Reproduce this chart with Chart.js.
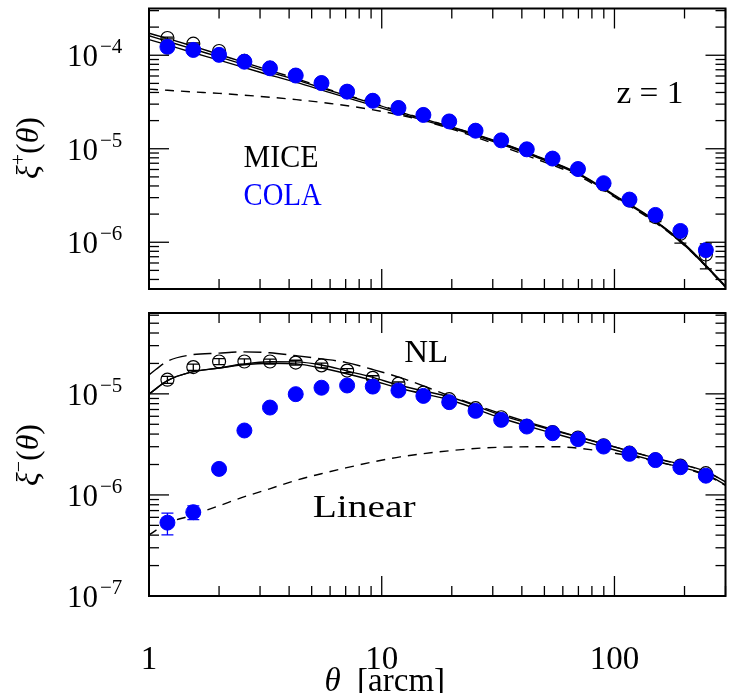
<!DOCTYPE html>
<html>
<head>
<meta charset="utf-8">
<script src="https://cdn.jsdelivr.net/npm/chart.js@4.4.0/dist/chart.umd.min.js"></script>
<style>
  body { margin: 0; background: #fff; }
  .panel { position: absolute; left: 0; }
  #topPanel { top: 0; }
  #bottomPanel { top: 300px; }
</style>
</head>
<body>
<div class="panel" id="topPanel"><canvas id="xiPlus" width="734" height="300"></canvas></div>
<div class="panel" id="bottomPanel"><canvas id="xiMinus" width="734" height="393"></canvas></div>
<script>
// angular bins of the measurements [arcmin]
const theta = [1.20, 1.55, 2.00, 2.57, 3.31, 4.27, 5.51, 7.10, 9.15, 11.8, 15.1,
  19.5, 25.3, 32.6, 42.0, 54.2, 69.7, 89.8, 116, 150, 192, 247];

// xi+ : MICE (open) and COLA (filled)
const micePlus = [1.53e-4, 1.33e-4, 1.11e-4, 8.7e-5, 7.35e-5, 6.15e-5, 5.1e-5, 4.12e-5,
  3.3e-5, 2.76e-5, 2.32e-5, 1.97e-5, 1.57e-5, 1.24e-5, 9.9e-6, 7.85e-6, 6.0e-6, 4.15e-6,
  2.8e-6, 1.86e-6, 1.23e-6, 7.4e-7];
const micePlusErr = [3e-6, 2.5e-6, 2e-6, 1.5e-6, 1.2e-6, 1e-6, 8e-7, 6e-7, 5e-7, 4e-7,
  3.5e-7, 3e-7, 2.6e-7, 2.2e-7, 2e-7, 1.8e-7, 1.7e-7, 1.8e-7, 1.8e-7, 2.0e-7, 2.5e-7, 2.2e-7];
const colaPlus = [1.23e-4, 1.14e-4, 1.01e-4, 8.53e-5, 7.25e-5, 6.07e-5, 5.04e-5, 4.08e-5,
  3.26e-5, 2.73e-5, 2.30e-5, 1.96e-5, 1.56e-5, 1.23e-5, 9.86e-6, 7.85e-6, 6.07e-6, 4.28e-6,
  2.86e-6, 1.96e-6, 1.32e-6, 8.24e-7];

// xi- : MICE (open) and COLA (filled)
const miceMinus = [1.38e-5, 1.84e-5, 2.09e-5, 2.09e-5, 2.09e-5, 2.04e-5, 1.91e-5, 1.70e-5,
  1.44e-5, 1.26e-5, 1.03e-5, 8.86e-6, 7.22e-6, 5.87e-6, 4.82e-6, 4.18e-6, 3.69e-6, 3.10e-6,
  2.62e-6, 2.25e-6, 1.95e-6, 1.64e-6];
const miceMinusErr = [1.1e-6, 1.3e-6, 1.4e-6, 1.3e-6, 1.2e-6, 1.1e-6, 1.0e-6, 8e-7, 7e-7,
  5e-7, 4e-7, 3.3e-7, 2.7e-7, 2.2e-7, 1.8e-7, 1.6e-7, 1.4e-7, 1.2e-7, 1.1e-7, 1e-7, 9e-8, 8e-8];
const colaMinus = [5.32e-7, 6.75e-7, 1.81e-6, 4.34e-6, 7.32e-6, 9.93e-6, 1.15e-5, 1.21e-5,
  1.18e-5, 1.08e-5, 9.55e-6, 8.28e-6, 6.79e-6, 5.53e-6, 4.75e-6, 4.08e-6, 3.56e-6, 3.01e-6,
  2.55e-6, 2.21e-6, 1.88e-6, 1.55e-6];
const colaMinusErr = [1.3e-7, 1.05e-7, 5e-8, 1e-7, 1.5e-7, 2e-7, 2e-7, 2e-7, 2e-7, 1.8e-7,
  1.5e-7, 1.3e-7, 1.1e-7, 9e-8, 8e-8, 7e-8, 6e-8, 5e-8, 5e-8, 4e-8, 4e-8, 4e-8];

// model curves, xi+
const thetaPlusFit = [1, 1.2, 1.5, 2, 3, 4.3, 6, 9, 14, 20, 30, 45, 70, 100, 150, 200, 250, 300];
const nlPlusA = [1.47e-4, 1.29e-4, 1.09e-4, 8.86e-5, 6.58e-5, 5.13e-5, 3.98e-5, 2.95e-5, 2.13e-5,
  1.66e-5, 1.20e-5, 8.32e-6, 5.31e-6, 3.12e-6, 1.66e-6, 9.3e-7, 5.37e-7, 3.31e-7];
const nlPlusB = [1.62e-4, 1.41e-4, 1.19e-4, 9.59e-5, 7.06e-5, 5.45e-5, 4.19e-5, 3.09e-5, 2.20e-5,
  1.71e-5, 1.24e-5, 8.57e-6, 5.46e-6, 3.20e-6, 1.70e-6, 9.55e-7, 5.50e-7, 3.39e-7];
const nlPlusAlt = [1.72e-4, 1.51e-4, 1.28e-4, 1.02e-4, 7.41e-5, 5.62e-5, 4.27e-5, 3.13e-5, 2.21e-5,
  1.71e-5, 1.23e-5, 8.51e-6, 5.4e-6, 3.16e-6, 1.68e-6, 9.44e-7, 5.43e-7, 3.35e-7];
const linPlus = [4.34e-5, 4.22e-5, 4.07e-5, 3.91e-5, 3.63e-5, 3.35e-5, 3.05e-5, 2.63e-5, 2.10e-5,
  1.62e-5, 1.15e-5, 7.94e-6, 5.13e-6, 3.05e-6, 1.62e-6, 9.23e-7, 5.35e-7, 3.30e-7];

// model curves, xi-
const thetaMinusFit = [1, 1.2, 1.5, 2, 2.5, 3.3, 4.3, 5.5, 7, 9, 12, 20, 33, 55, 90, 150, 250, 300];
const nlMinusA = [9.93e-6, 1.35e-5, 1.63e-5, 1.80e-5, 1.93e-5, 2.01e-5, 1.98e-5, 1.80e-5, 1.59e-5,
  1.37e-5, 1.13e-5, 8.6e-6, 5.7e-6, 4.05e-6, 2.98e-6, 2.16e-6, 1.58e-6, 1.26e-6];
const nlMinusB = [9.93e-6, 1.35e-5, 1.63e-5, 1.80e-5, 1.96e-5, 2.08e-5, 2.07e-5, 1.93e-5, 1.70e-5,
  1.47e-5, 1.21e-5, 9.2e-6, 6.1e-6, 4.34e-6, 3.19e-6, 2.31e-6, 1.69e-6, 1.35e-6];
const nlMinusAlt = [1.54e-5, 2.1e-5, 2.42e-5, 2.53e-5, 2.60e-5, 2.55e-5, 2.38e-5, 2.22e-5, 2.05e-5,
  1.76e-5, 1.45e-5, 9.4e-6, 6.3e-6, 4.4e-6, 3.2e-6, 2.3e-6, 1.68e-6, 1.34e-6];
const linMinus = [4.02e-7, 5.25e-7, 6.2e-7, 7.8e-7, 9.4e-7, 1.15e-6, 1.40e-6, 1.62e-6, 1.85e-6,
  2.1e-6, 2.38e-6, 2.75e-6, 2.97e-6, 3.0e-6, 2.69e-6, 2.15e-6, 1.55e-6, 1.24e-6];

// axis labels
const xTickLabels = ['1', '10', '100'];
const yPlusExps = [-4, -5, -6];
const yMinusExps = [-5, -6, -7];

const SERIF = '"Liberation Serif", "DejaVu Serif", serif';
const BLUE = '#0000ff';

const pts = (xs, ys) => xs.map((x, i) => ({ x: x, y: ys[i] }));

function curve(xs, ys, dash) {
  return {
    data: pts(xs, ys), showLine: true, borderColor: '#000', borderWidth: 1.4,
    borderDash: dash, pointRadius: 0, cubicInterpolationMode: 'monotone', order: 5
  };
}
function miceSet(ys, errs) {
  return {
    data: pts(theta, ys), showLine: false, pointRadius: 6.5, pointBorderWidth: 1.2,
    borderColor: '#000', backgroundColor: 'rgba(0,0,0,0)', errors: errs, barColor: '#000', order: 1
  };
}
function colaSet(ys, errs) {
  return {
    data: pts(theta, ys), showLine: false, pointRadius: 7.5, pointBorderWidth: 1,
    borderColor: BLUE, backgroundColor: BLUE, errors: errs, barColor: BLUE, order: 0
  };
}

// vertical error bars with caps, drawn right after their dataset
const errorBars = {
  id: 'errorBars',
  afterDatasetDraw(chart, args) {
    const ds = chart.data.datasets[args.index];
    if (!ds.errors) return;
    const { ctx, chartArea: a, scales: { y } } = chart;
    ctx.save();
    ctx.beginPath();
    ctx.rect(a.left, a.top, a.right - a.left, a.bottom - a.top);
    ctx.clip();
    ctx.strokeStyle = ds.barColor;
    ctx.lineWidth = 1.3;
    args.meta.data.forEach((el, i) => {
      const v = ds.data[i].y, e = ds.errors[i];
      const y1 = y.getPixelForValue(v + e), y2 = y.getPixelForValue(Math.max(v - e, 1e-12));
      ctx.beginPath();
      ctx.moveTo(el.x, y1); ctx.lineTo(el.x, y2);
      ctx.moveTo(el.x - 6, y1); ctx.lineTo(el.x + 6, y1);
      ctx.moveTo(el.x - 6, y2); ctx.lineTo(el.x + 6, y2);
      ctx.stroke();
    });
    ctx.restore();
  }
};

// draws a run of text pieces [text, font, dy] starting at x
function drawPieces(ctx, pieces, x, y, align) {
  let w = 0;
  pieces.forEach(p => { ctx.font = p[1]; w += ctx.measureText(p[0]).width; });
  let cx = align === 'center' ? x - w / 2 : (align === 'right' ? x - w : x);
  ctx.textAlign = 'left';
  pieces.forEach(p => {
    ctx.font = p[1];
    ctx.fillText(p[0], cx, y + (p[2] || 0));
    cx += ctx.measureText(p[0]).width;
  });
}

// frame, inward ticks on all sides, tick labels and annotations
const panelDecor = {
  id: 'panelDecor',
  afterDraw(chart, args, opts) {
    const { ctx, chartArea: a, scales: { x, y } } = chart;
    ctx.save();
    ctx.strokeStyle = '#000';
    ctx.fillStyle = '#000';
    ctx.lineWidth = 1.3;
    const seg = (x1, y1, x2, y2) => { ctx.beginPath(); ctx.moveTo(x1, y1); ctx.lineTo(x2, y2); ctx.stroke(); };

    // x ticks
    for (let d = 0; d <= 2; d++) {
      for (let m = 1; m <= 9; m++) {
        const v = m * Math.pow(10, d);
        if (v > x.max * 1.0001) continue;
        const px = x.getPixelForValue(v), len = m === 1 ? 20 : 10;
        seg(px, a.bottom, px, a.bottom - len);
        seg(px, a.top, px, a.top + len);
      }
    }
    // y ticks
    const d0 = Math.floor(Math.log10(y.min)), d1 = Math.ceil(Math.log10(y.max));
    for (let d = d0; d <= d1; d++) {
      for (let m = 1; m <= 9; m++) {
        const v = m * Math.pow(10, d);
        if (v < y.min * 0.9999 || v > y.max * 1.0001) continue;
        const py = y.getPixelForValue(v), len = m === 1 ? 20 : 10;
        seg(a.left, py, a.left + len, py);
        seg(a.right, py, a.right - len, py);
      }
    }
    // frame
    ctx.lineWidth = 2;
    ctx.strokeRect(a.left, a.top, a.right - a.left, a.bottom - a.top);

    // y tick labels 10^n
    ctx.textBaseline = 'alphabetic';
    opts.yExps.forEach(n => {
      const py = y.getPixelForValue(Math.pow(10, n));
      ctx.font = '31px ' + SERIF;
      ctx.textAlign = 'right';
      ctx.fillText('10', 98, py + 11);
      ctx.textAlign = 'left';
      ctx.font = '21px ' + SERIF;
      ctx.fillText('\u2212' + Math.abs(n), 100, py - 2);
    });

    // y axis title, rotated
    ctx.save();
    ctx.translate(opts.yTitleX, opts.yTitleY);
    ctx.rotate(-Math.PI / 2);
    ctx.textBaseline = 'middle';
    drawPieces(ctx, [
      ['\u03be', 'italic 32px ' + SERIF, 0],
      [opts.ySign, '20px ' + SERIF, -10],
      ['(', '32px ' + SERIF, 0],
      ['\u03b8', 'italic 32px ' + SERIF, 0],
      [')', '32px ' + SERIF, 0]
    ], 0, 0, 'center');
    ctx.restore();

    // x tick labels and title
    if (opts.xLabels) {
      ctx.textBaseline = 'middle';
      ctx.font = '33px ' + SERIF;
      ctx.textAlign = 'center';
      xTickLabels.forEach(t => {
        ctx.fillText(t, x.getPixelForValue(Number(t)), a.bottom + 64);
      });
      drawPieces(ctx, [
        ['\u03b8', 'italic 33px ' + SERIF, 0],
        ['  [arcm]', '33px ' + SERIF, 0]
      ], x.getPixelForValue(10) + 3, a.bottom + 86, 'center');
    }

    // annotations placed in data coordinates, stretched to their set width
    ctx.textBaseline = 'middle';
    ctx.textAlign = 'left';
    (opts.notes || []).forEach(n => {
      ctx.fillStyle = n.color || '#000';
      ctx.font = '32px ' + SERIF;
      const sx = n.width / ctx.measureText(n.text).width;
      ctx.save();
      ctx.translate(x.getPixelForValue(n.x), y.getPixelForValue(n.y));
      ctx.scale(sx, 1);
      ctx.fillText(n.text, 0, 0);
      ctx.restore();
    });
    ctx.restore();
  }
};

function makePanel(id, yMin, yMax, datasets, padding, decor) {
  return new Chart(document.getElementById(id), {
    type: 'scatter',
    data: { datasets: datasets },
    options: {
      responsive: false,
      animation: false,
      layout: { padding: padding },
      plugins: { legend: { display: false }, tooltip: { enabled: false }, panelDecor: decor },
      scales: {
        x: { type: 'logarithmic', min: 1, max: 300, display: false },
        y: { type: 'logarithmic', min: yMin, max: yMax, display: false }
      }
    },
    plugins: [errorBars, panelDecor]
  });
}

makePanel('xiPlus', Math.pow(10, -6.5), Math.pow(10, -3.5), [
  colaSet(colaPlus, null),
  miceSet(micePlus, micePlusErr),
  curve(thetaPlusFit, nlPlusA, []),
  curve(thetaPlusFit, nlPlusB, []),
  curve(thetaPlusFit, nlPlusAlt, [18, 7]),
  curve(thetaPlusFit, linPlus, [9, 7])
], { left: 149, right: 1, top: 5, bottom: 11 }, {
  yExps: yPlusExps, ySign: '+', yTitleX: 30, yTitleY: 148, xLabels: false,
  notes: [
    { text: 'z = 1', x: 102, y: 3.77e-5, width: 67 },
    { text: 'MICE', x: 2.55, y: 7.8e-6, width: 75 },
    { text: 'COLA', x: 2.55, y: 3.1e-6, width: 78, color: BLUE }
  ]
});

makePanel('xiMinus', Math.pow(10, -7), Math.pow(10, -4.2), [
  colaSet(colaMinus, colaMinusErr),
  miceSet(miceMinus, miceMinusErr),
  curve(thetaMinusFit, nlMinusA, []),
  curve(thetaMinusFit, nlMinusB, []),
  curve(thetaMinusFit, nlMinusAlt, [18, 7]),
  curve(thetaMinusFit, linMinus, [9, 7])
], { left: 149, right: 1, top: 13, bottom: 97 }, {
  yExps: yMinusExps, ySign: '\u2212', yTitleX: 30, yTitleY: 155, xLabels: true,
  notes: [
    { text: 'NL', x: 12.5, y: 2.49e-5, width: 44 },
    { text: 'Linear', x: 5.05, y: 7.4e-7, width: 103 }
  ]
});
</script>
</body>
</html>
